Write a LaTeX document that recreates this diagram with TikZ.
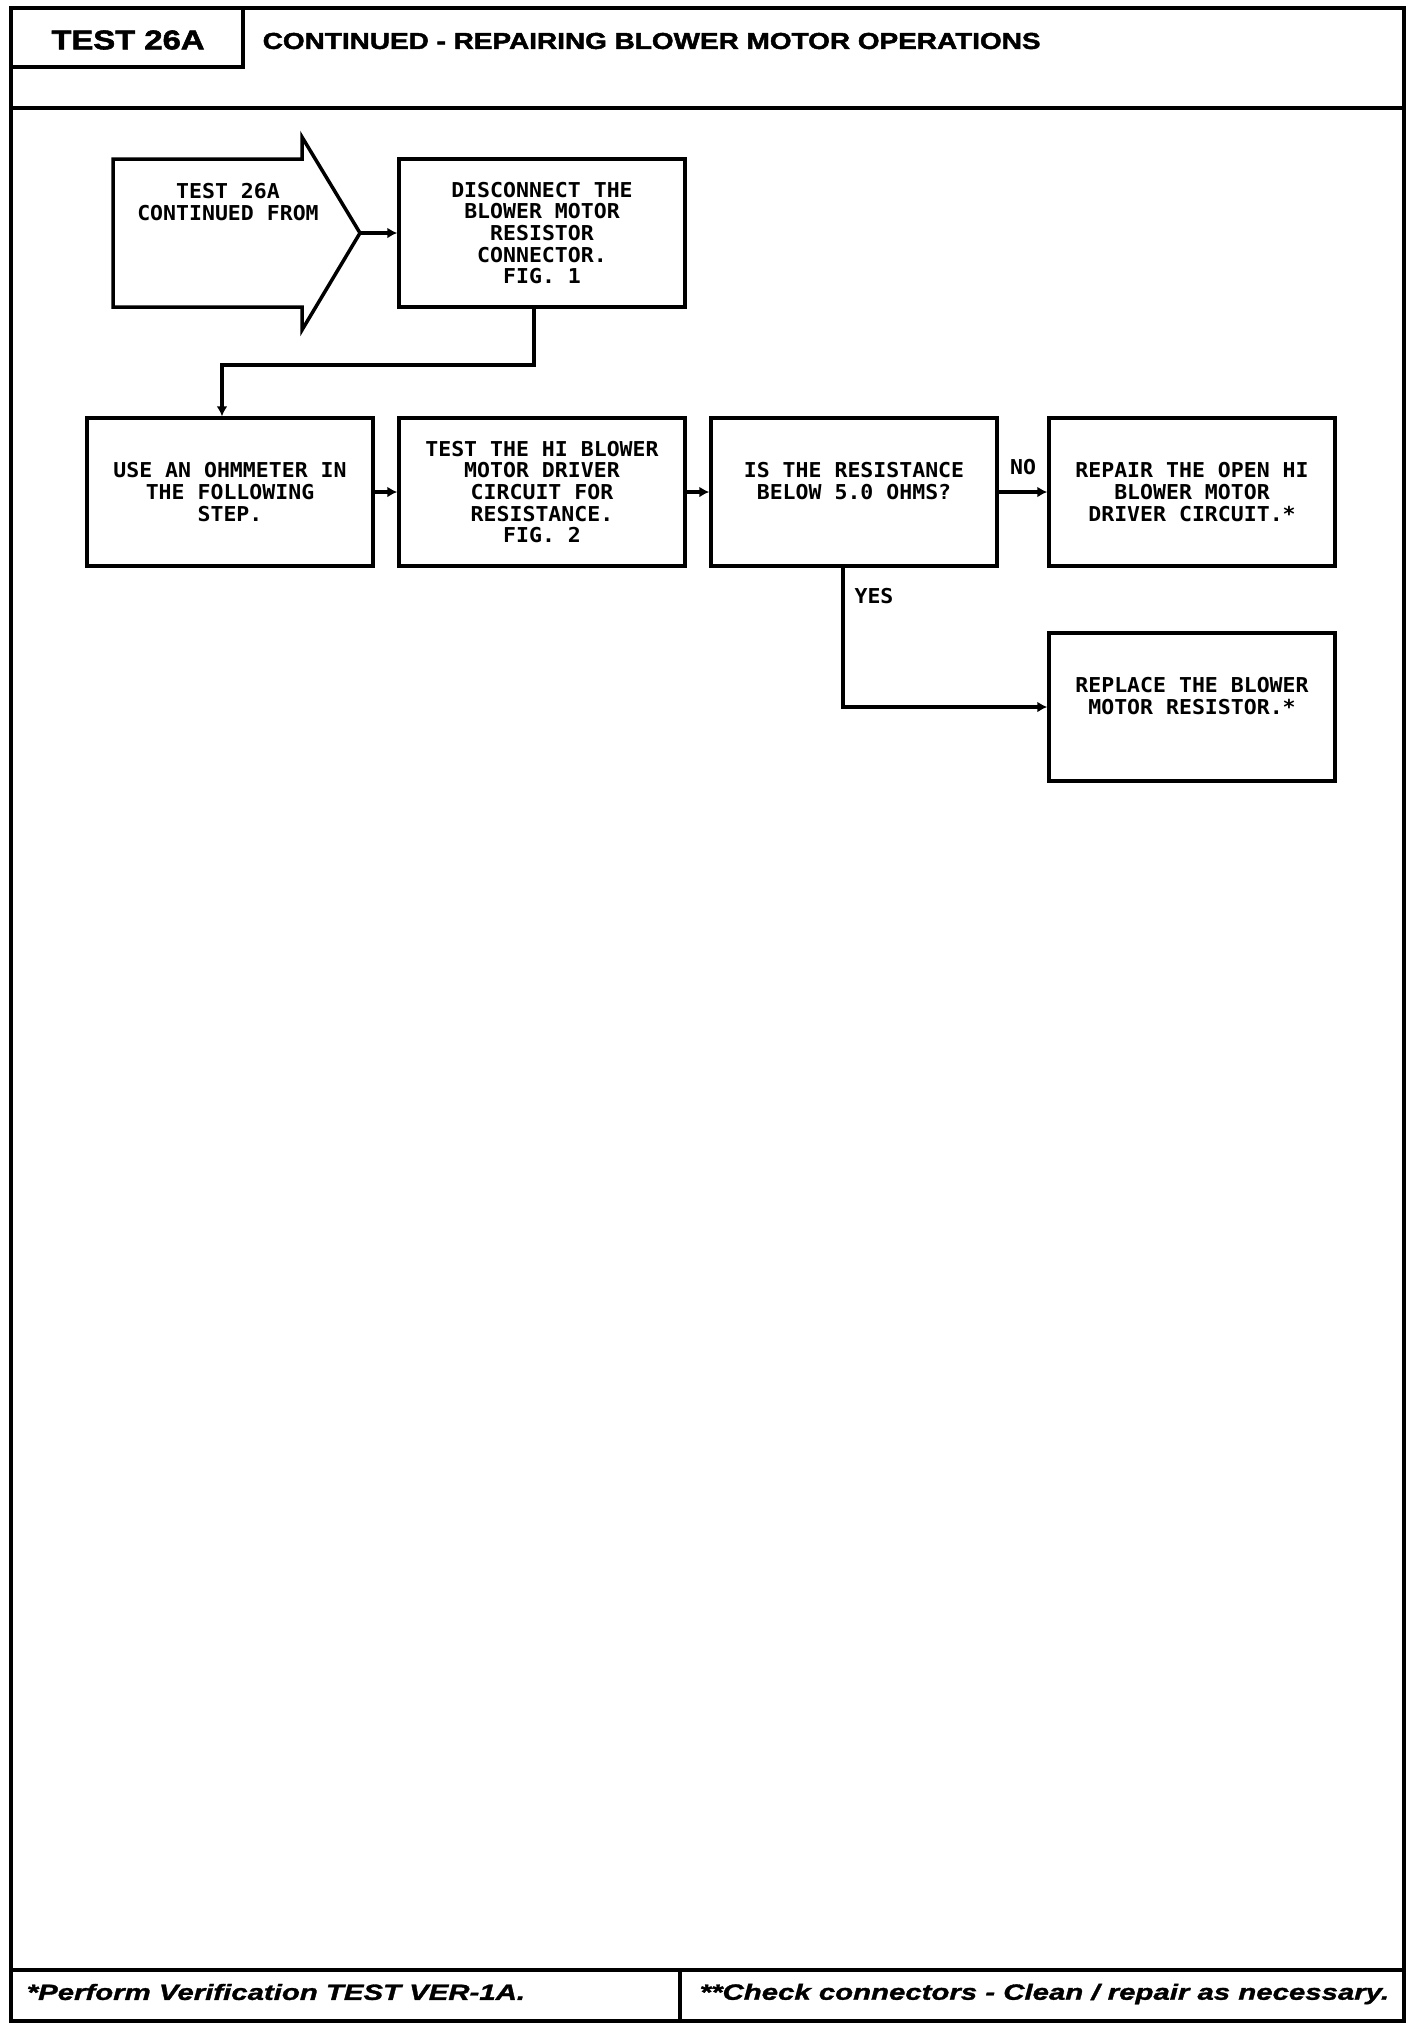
\documentclass[tikz,border=0pt]{standalone}
\usepackage{fontspec}
\setmainfont{Liberation Sans}
\newfontfamily\headfont[FakeStretch=1.215,FakeBold=2]{Liberation Sans}
\newfontfamily\footfont[FakeStretch=1.335,FakeBold=1.5]{Liberation Sans}
\newfontfamily\plotfont[FakeStretch=1.05]{DejaVu Sans Mono}
\usetikzlibrary{arrows.meta}

\begin{document}
\begin{tikzpicture}[x=1pt, y=-1pt, line width=3.5pt,
    plot/.style={font=\plotfont\bfseries\fontsize{20.5}{21.7}\selectfont, inner sep=0pt, align=center},
    stepbox/.style={plot, draw, minimum width=286pt, minimum height=148pt},
    flow/.style={-{Latex[length=10pt,width=11pt]}}]
    \useasboundingbox (0,0) rectangle (1424,2030);

    % draw frame
    \draw (11,8) rectangle (1404,2021);
    \draw (243,8) -- (243,67) -- (11,67);
    \draw (11,108) -- (1404,108);
    \draw (11,1970) -- (1404,1970);
    \draw (680,1970) -- (680,2021);

    % draw heading and notes
    \node (testid) at (128,40) {\headfont\bfseries\fontsize{27}{30}\selectfont TEST 26A};
    \node[anchor=west, inner sep=0pt] (title) at (261,41) {\headfont\bfseries\fontsize{23}{26}\selectfont CONTINUED - REPAIRING BLOWER MOTOR OPERATIONS};
    \node[anchor=west, inner sep=0pt] (note1) at (25,1992) {\footfont\bfseries\itshape\fontsize{22}{24}\selectfont *Perform Verification TEST VER-1A.};
    \node[anchor=west, inner sep=0pt] (note2) at (698,1994) {\footfont\bfseries\itshape\fontsize{22}{24}\selectfont **Check connectors - Clean / repair as necessary.};

    % draw entry arrow
    \draw (113,159) -- (302,159) -- (302,137) -- (360,233) -- (302,330) -- (302,307) -- (113,307) -- cycle;
    \coordinate (from) at (360,233);
    \node[plot] (fromtext) at (228,202) {TEST 26A\\CONTINUED FROM};

    % draw steps
    \node[stepbox] (disc) at (542,233) {DISCONNECT THE\\BLOWER MOTOR\\RESISTOR\\CONNECTOR.\\FIG. 1};
    \node[stepbox] (ohm) at (230,492) {USE AN OHMMETER IN\\THE FOLLOWING\\STEP.};
    \node[stepbox] (test) at (542,492) {TEST THE HI BLOWER\\MOTOR DRIVER\\CIRCUIT FOR\\RESISTANCE.\\FIG. 2};
    \node[stepbox] (res) at (854,492) {IS THE RESISTANCE\\BELOW 5.0 OHMS?\\\mbox{}};
    \node[stepbox] (repair) at (1192,492) {REPAIR THE OPEN HI\\BLOWER MOTOR\\DRIVER CIRCUIT.*};
    \node[stepbox] (replace) at (1192,707) {REPLACE THE BLOWER\\MOTOR RESISTOR.*\\\mbox{}};

    % draw connectors
    \draw[flow] (from) -- (disc.west);
    \draw[flow] ([xshift=-8pt]disc.south) -- ++(0,56) -| ([xshift=-8pt]ohm.north);
    \foreach \a/\b in {ohm/test, test/res}
      \draw[flow] (\a) -- (\b);
    \draw[flow] (res) -- node[plot, above=15pt] (nolbl) {NO} (repair);
    \draw[flow] ([xshift=-11pt]res.south) |- (replace.west);
    \node[plot] (yeslbl) at (874,596) {YES};
\end{tikzpicture}
\end{document}
